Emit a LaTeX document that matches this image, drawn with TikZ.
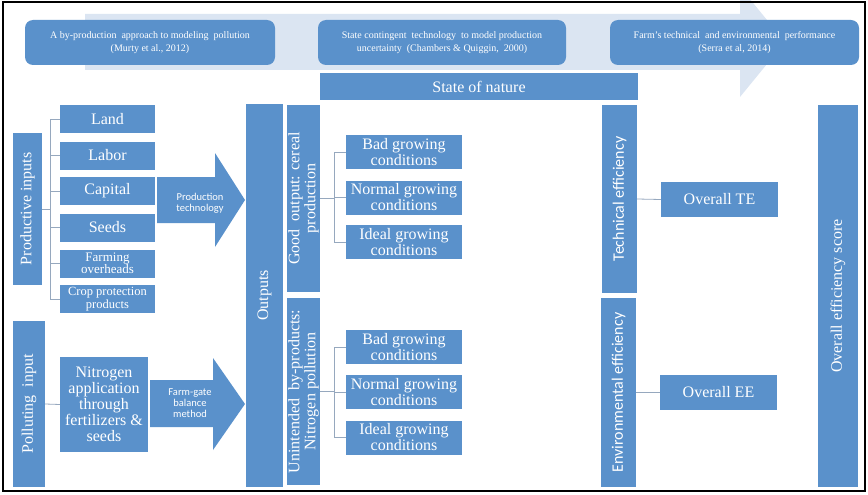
\documentclass[tikz,border=0pt]{standalone}
\usepackage{fontspec}
\setmainfont{Liberation Serif}
\newfontfamily\calibfont{Carlito}
\definecolor{boxblue}{RGB}{90,145,203}
\definecolor{paleblue}{RGB}{219,229,242}
\definecolor{linkgray}{RGB}{150,168,190}

\begin{document}
\begin{tikzpicture}[x=1pt, y=-1pt,
    box/.style={fill=boxblue, text=white, inner sep=0pt, align=center,
      font=\fontsize{16}{16}\selectfont},
    vbox/.style={box, rotate=90},
    refbox/.style={box, rounded corners=8pt, font=\fontsize{10}{13}\selectfont},
    arrowtext/.style={text=white, align=center,
      font=\calibfont\fontsize{10.5}{11}\selectfont},
    link/.style={draw=linkgray, line width=0.8pt}]
        \useasboundingbox (0,0) rectangle (868,495);
        % big pale arrow behind the references
        \fill[paleblue] (85,14) -- (740,14) -- (740,-13) -- (785,42)
          -- (740,97) -- (740,70) -- (85,70) -- cycle;
        \node[refbox, minimum width=250pt, minimum height=45pt] (murty) at (150,42.5)
          {A by-production\ \ approach to modeling\ \ pollution\\(Murty et al., 2012)};
        \node[refbox, minimum width=248pt, minimum height=45pt] (chambers) at (442,42.5)
          {State contingent\ \ technology\ \ to model production\\uncertainty\ \ (Chambers \& Quiggin,\ \ 2000)};
        \node[refbox, minimum width=249pt, minimum height=45pt] (serra) at (734.5,42.5)
          {Farm's technical\ \ and environmental\ \ performance\\(Serra et al, 2014)};
        \node[box, minimum width=318pt, minimum height=27pt] (nature) at (479,86.5) {State of nature};

        % inputs
        \node[vbox, minimum width=152pt, minimum height=29pt] (prodin) at (27.5,209) {Productive inputs};
        \node[box, minimum width=95pt, minimum height=28pt] (land) at (107.5,119) {Land};
        \node[box, minimum width=95pt, minimum height=28pt] (labor) at (107.5,155.5) {Labor};
        \node[box, minimum width=95pt, minimum height=28pt] (capital) at (107.5,191) {Capital};
        \node[box, minimum width=95pt, minimum height=28pt] (seeds) at (107.5,227.5) {Seeds};
        \node[box, minimum width=95pt, minimum height=28pt, font=\fontsize{13}{12.5}\selectfont]
          (overheads) at (107.5,263.5) {Farming\\overheads};
        \node[box, minimum width=95pt, minimum height=28pt, font=\fontsize{12.5}{13}\selectfont]
          (cropprot) at (107.5,299) {Crop protection\\products};
        \coordinate (inbar) at (50,209);
        \draw[link] (prodin.south) -- (inbar);
        \draw[link] (land.west) -- (land.west -| inbar) -- (cropprot.west -| inbar) -- (cropprot.west);
        \draw[link] (labor.west) -- (labor.west -| inbar);
        \draw[link] (capital.west) -- (capital.west -| inbar);
        \draw[link] (seeds.west) -- (seeds.west -| inbar);
        \draw[link] (overheads.west) -- (overheads.west -| inbar);

        \node[vbox, minimum width=166pt, minimum height=32pt] (pollin) at (29,404) {Polluting\ \ input};
        \node[box, minimum width=88pt, minimum height=95pt] (nitro) at (104,404.5)
          {Nitrogen\\application\\through\\fertilizers \&\\seeds};
        \draw[link] (pollin.south) -- (nitro.west);

        % technology arrows
        \fill[boxblue] (157,177) -- (215,177) -- (215,153) -- (245,200)
          -- (215,247) -- (215,223) -- (157,223) -- cycle;
        \node[arrowtext] (prodtech) at (200,203) {Production\\technology};
        \fill[boxblue] (150,380) -- (213,380) -- (213,358) -- (245,404)
          -- (213,450) -- (213,427) -- (150,427) -- cycle;
        \node[arrowtext] (farmgate) at (190,403) {Farm-gate\\balance\\method};

        % outputs
        \node[vbox, minimum width=382pt, minimum height=37pt] (outputs) at (264.5,295.5) {Outputs};
        \node[vbox, minimum width=187pt, minimum height=33pt] (good) at (303.5,198.5)
          {Good\ \ output: cereal\\production};
        \node[vbox, minimum width=187pt, minimum height=33pt] (byprod) at (303.5,391.5)
          {Unintended\ \ by-products:\\Nitrogen pollution};

        \node[box, minimum width=116pt, minimum height=34pt] (gbad) at (404,152) {Bad growing\\conditions};
        \node[box, minimum width=116pt, minimum height=34pt] (gnormal) at (404,197.5) {Normal growing\\conditions};
        \node[box, minimum width=116pt, minimum height=34pt] (gideal) at (404,242) {Ideal growing\\conditions};
        \coordinate (gbar) at (334,198.5);
        \draw[link] (good.south) -- (gbar);
        \draw[link] (gbad.west) -- (gbad.west -| gbar) -- (gideal.west -| gbar) -- (gideal.west);
        \draw[link] (gnormal.west) -- (gnormal.west -| gbar);

        \node[box, minimum width=116pt, minimum height=34pt] (pbad) at (404,347) {Bad growing\\conditions};
        \node[box, minimum width=116pt, minimum height=34pt] (pnormal) at (404,392) {Normal growing\\conditions};
        \node[box, minimum width=116pt, minimum height=34pt] (pideal) at (404,437.5) {Ideal growing\\conditions};
        \coordinate (pbar) at (334,391.5);
        \draw[link] (byprod.south) -- (pbar);
        \draw[link] (pbad.west) -- (pbad.west -| pbar) -- (pideal.west -| pbar) -- (pideal.west);
        \draw[link] (pnormal.west) -- (pnormal.west -| pbar);

        % efficiency
        \node[vbox, minimum width=188pt, minimum height=35pt, font=\calibfont\fontsize{16}{16}\selectfont]
          (techeff) at (619.5,199) {Technical efficiency};
        \node[vbox, minimum width=189pt, minimum height=35pt, font=\calibfont\fontsize{16}{16}\selectfont]
          (enveff) at (618.5,392.5) {Environmental efficiency};
        \node[box, minimum width=117pt, minimum height=35pt] (overallte) at (719.5,199.5) {Overall TE};
        \node[box, minimum width=117pt, minimum height=35pt] (overallee) at (718.5,392.5) {Overall EE};
        \draw[link] (techeff.south) -- (overallte.west);
        \draw[link] (enveff.south) -- (overallee.west);
        \node[vbox, minimum width=382pt, minimum height=40pt] (score) at (838,296) {Overall efficiency score};

        \draw[line width=2pt] (3,2) rectangle (865,491);
      \end{tikzpicture}
\end{document}
